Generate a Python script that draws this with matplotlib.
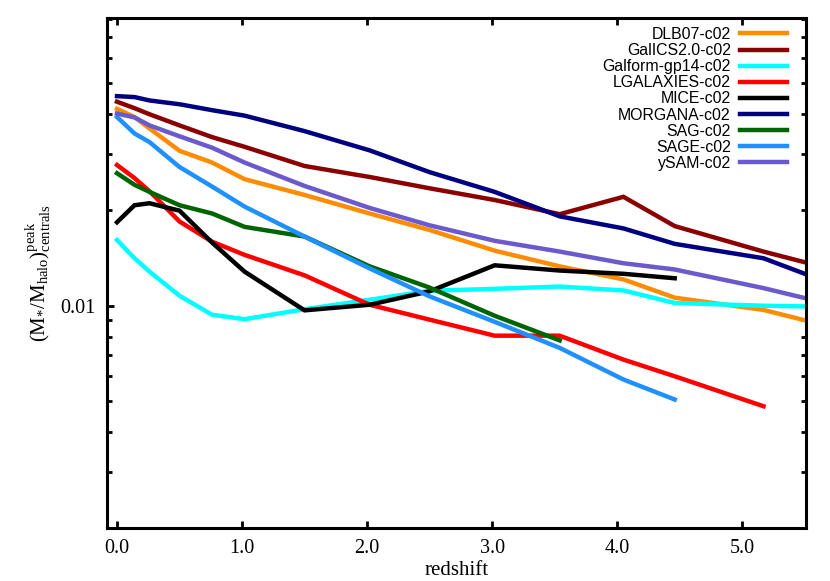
import matplotlib
matplotlib.use("Agg")
import matplotlib.pyplot as plt
from matplotlib.ticker import LogLocator, NullFormatter, FixedLocator, FixedFormatter

# ---------------- data ----------------
z_full = [0.0, 0.14, 0.26, 0.5, 0.76, 1.02, 1.5, 2.02, 2.5, 3.02, 3.54, 4.05, 4.46, 5.17, 5.5]

dlb07 = [0.0416, 0.0392, 0.0361, 0.0307, 0.0282, 0.0250, 0.0223, 0.0195, 0.0173, 0.0149,
         0.0133, 0.0121, 0.0106, 0.0097, 0.0090]
galics = [0.0438, 0.0418, 0.0400, 0.0369, 0.0339, 0.0316, 0.0275, 0.0254, 0.0234, 0.0215,
          0.0194, 0.0220, 0.0178, 0.0148, 0.0137]
galform = [0.0161, 0.0141, 0.0128, 0.01075, 0.00937, 0.00907, 0.00975, 0.01044, 0.01114, 0.0113,
           0.01149, 0.01117, 0.0102, 0.0100, 0.00995]
lgal_z = [0.0, 0.14, 0.26, 0.5, 0.76, 1.02, 1.5, 2.02, 2.5, 3.02, 3.54, 4.05, 4.46, 5.17]
lgal = [0.0277, 0.0252, 0.0229, 0.0184, 0.0159, 0.01445, 0.01246, 0.01007, 0.00904, 0.00805,
        0.00805, 0.00677, 0.0060, 0.00483]
mice_z = [0.0, 0.14, 0.26, 0.5, 0.76, 1.02, 1.5, 2.02, 2.5, 3.02, 3.54, 4.05, 4.46]
mice = [0.0183, 0.0207, 0.0210, 0.0199, 0.0158, 0.0128, 0.00967, 0.01007, 0.0111, 0.0134,
        0.0129, 0.0126, 0.0122]
morgana = [0.0456, 0.0453, 0.0442, 0.0430, 0.0412, 0.0396, 0.0354, 0.0308, 0.0263, 0.0228,
           0.0191, 0.0175, 0.01565, 0.0141, 0.0126]
sag_z = [0.0, 0.14, 0.26, 0.5, 0.76, 1.02, 1.5, 2.02, 2.5, 3.02, 3.54]
sag = [0.0261, 0.0240, 0.0228, 0.0207, 0.0195, 0.0177, 0.0165, 0.0133, 0.0114, 0.0093, 0.00778]
sage_z = [0.0, 0.14, 0.26, 0.5, 0.76, 1.02, 1.5, 2.02, 2.5, 3.02, 3.54, 4.05, 4.46]
sage = [0.0392, 0.0348, 0.0327, 0.0273, 0.0237, 0.0205, 0.0165, 0.0131, 0.0107, 0.0089,
        0.00737, 0.00586, 0.00507]
ysam = [0.0402, 0.0391, 0.0369, 0.0341, 0.0314, 0.0282, 0.0238, 0.0203, 0.0179, 0.0160,
        0.0148, 0.0136, 0.0130, 0.01136, 0.01057]

series = [
    ("DLB07-c02", z_full, dlb07, "#FF8C00"),
    ("GalICS2.0-c02", z_full, galics, "#8B0000"),
    ("Galform-gp14-c02", z_full, galform, "#00FFFF"),
    ("LGALAXIES-c02", lgal_z, lgal, "#FF0000"),
    ("MICE-c02", mice_z, mice, "#000000"),
    ("MORGANA-c02", z_full, morgana, "#000080"),
    ("SAG-c02", sag_z, sag, "#006400"),
    ("SAGE-c02", sage_z, sage, "#1E90FF"),
    ("ySAM-c02", z_full, ysam, "#6A5ACD"),
]

xticks = [0, 1, 2, 3, 4, 5]
xticklabels = ["0.0", "1.0", "2.0", "3.0", "4.0", "5.0"]

# ---------------- style ----------------
plt.rcParams["mathtext.fontset"] = "custom"
plt.rcParams["mathtext.rm"] = "Liberation Serif"
plt.rcParams["mathtext.it"] = "Liberation Serif:italic"

fig = plt.figure(figsize=(8.3, 5.81), dpi=100)
ax = fig.add_axes([107 / 830, 1 - 528 / 581, (806 - 107) / 830, (528 - 18) / 581])

for name, zz, vv, col in series:
    ax.plot(zz, vv, color=col, lw=3.2, label=name, solid_joinstyle="miter")

ax.set_yscale("log")
ax.set_xlim(-0.08, 5.51)
ax.set_ylim(0.002, 0.0803)

ax.xaxis.set_major_locator(FixedLocator(xticks))
ax.xaxis.set_major_formatter(FixedFormatter(xticklabels))
ax.yaxis.set_major_locator(FixedLocator([0.01]))
ax.yaxis.set_major_formatter(FixedFormatter(["0.01"]))
ax.yaxis.set_minor_locator(LogLocator(base=10, subs=[2, 3, 4, 5, 6, 7, 8, 9]))
ax.yaxis.set_minor_formatter(NullFormatter())

for s in ax.spines.values():
    s.set_linewidth(2.2)

ax.tick_params(which="major", direction="in", length=5, width=2.0, top=True, right=True,
               labelsize=14.5, pad=8)
ax.tick_params(which="minor", direction="in", length=3.5, width=2.0, top=True, right=True)
for lab in ax.get_xticklabels() + ax.get_yticklabels():
    lab.set_fontfamily("Liberation Serif")

ax.set_xlabel("redshift", fontfamily="Liberation Serif", fontsize=15, labelpad=2)
ax.set_ylabel(r"$(\mathrm{M}_{*}/\mathrm{M}_{\mathrm{halo}})^{\mathrm{peak}}_{\mathrm{centrals}}$",
              fontsize=15, labelpad=5)

leg = ax.legend(loc="upper right", bbox_to_anchor=(787 / 830, 1 - 27 / 581),
                bbox_transform=fig.transFigure, frameon=False, markerfirst=False,
                prop={"family": "Liberation Sans", "size": 11.4},
                handlelength=2.95, handletextpad=0.6, labelspacing=0.07,
                borderpad=0, borderaxespad=0)

fig.savefig("out.png", dpi=100)
